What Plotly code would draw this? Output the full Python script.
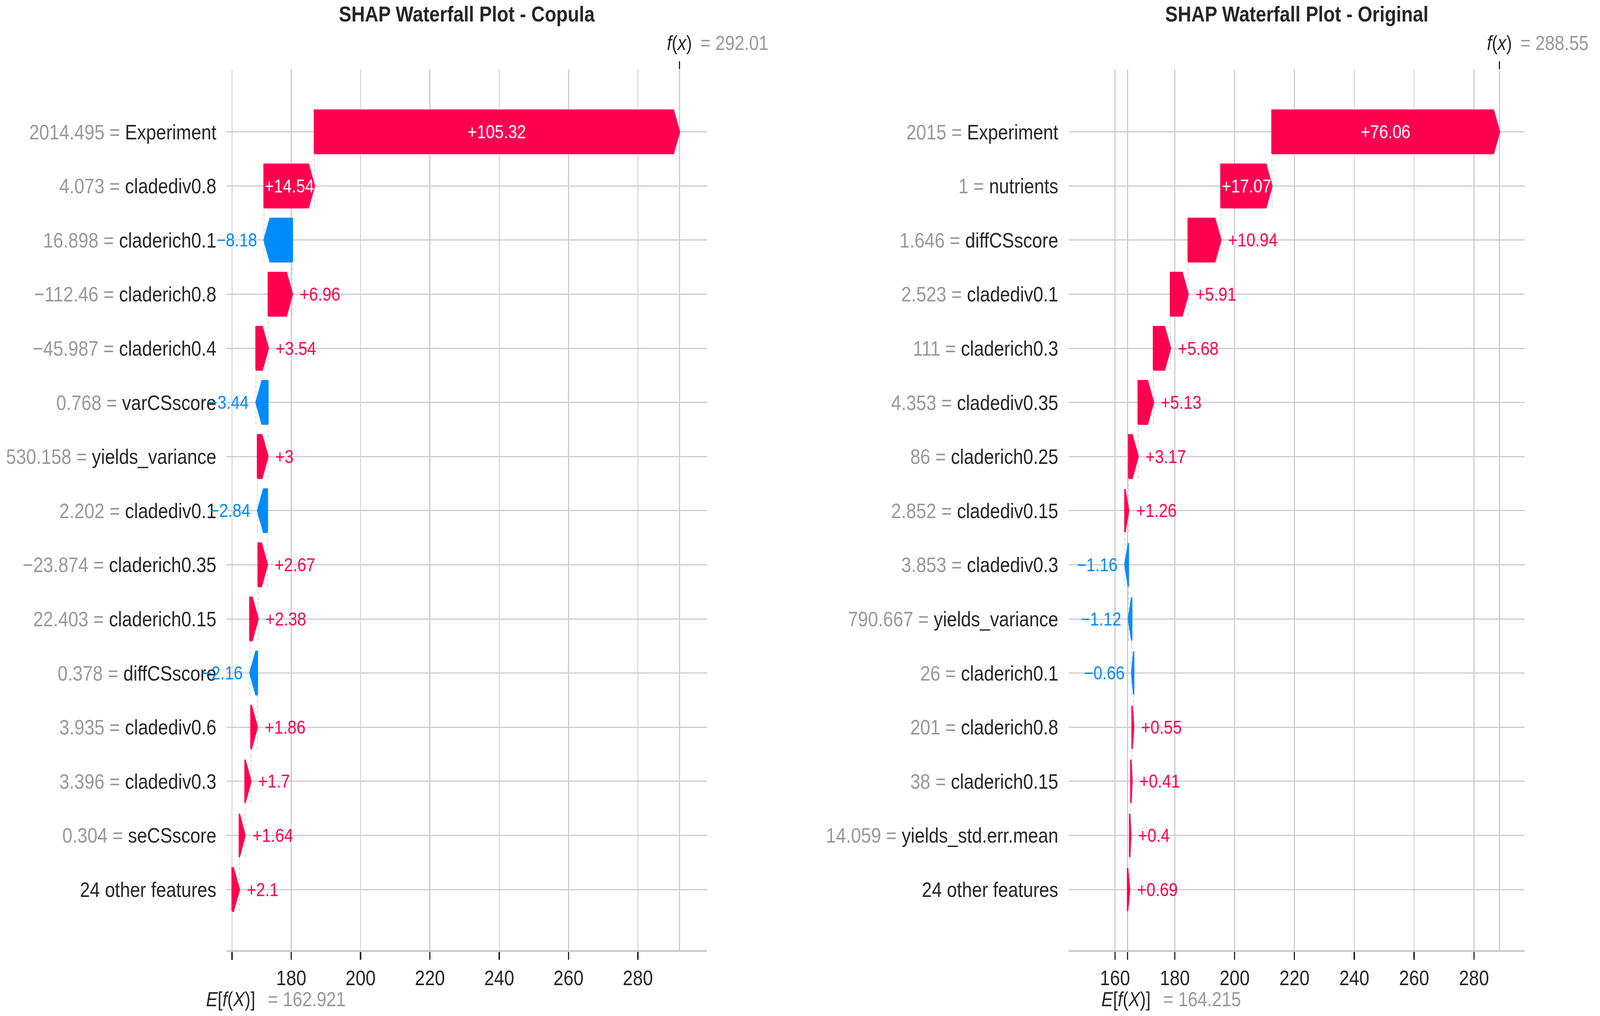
import plotly.graph_objects as go

# ---- data (top row first) ----
copula_features = ["Experiment", "cladediv0.8", "claderich0.1", "claderich0.8", "claderich0.4",
                   "varCSscore", "yields_variance", "cladediv0.1", "claderich0.35", "claderich0.15",
                   "diffCSscore", "cladediv0.6", "cladediv0.3", "seCSscore", "24 other features"]
copula_feature_values = [2014.495, 4.073, 16.898, -112.46, -45.987, 0.768, 530.158, 2.202,
                         -23.874, 22.403, 0.378, 3.935, 3.396, 0.304, None]
copula_shap = [105.32, 14.54, -8.18, 6.96, 3.54, -3.44, 3.0, -2.84, 2.67, 2.38,
               -2.16, 1.86, 1.7, 1.64, 2.1]
copula_base = 162.921
copula_fx = 292.01
copula_ticks = [180, 200, 220, 240, 260, 280]

original_features = ["Experiment", "nutrients", "diffCSscore", "cladediv0.1", "claderich0.3",
                     "cladediv0.35", "claderich0.25", "cladediv0.15", "cladediv0.3", "yields_variance",
                     "claderich0.1", "claderich0.8", "claderich0.15", "yields_std.err.mean",
                     "24 other features"]
original_feature_values = [2015, 1, 1.646, 2.523, 111, 4.353, 86, 2.852, 3.853, 790.667,
                           26, 201, 38, 14.059, None]
original_shap = [76.06, 17.07, 10.94, 5.91, 5.68, 5.13, 3.17, 1.26, -1.16, -1.12,
                 -0.66, 0.55, 0.41, 0.4, 0.69]
original_base = 164.215
original_fx = 288.55
original_ticks = [160, 180, 200, 220, 240, 260, 280]

# ---- style ----
W, H = 4784, 2602
RED = "#ff0051"
BLUE = "#008bfb"
DARK = "#262626"
GRAY = "#999999"
GRID = "#cccccc"
FONT = "Liberation Sans, Arial, sans-serif"
ydom = [0.0648, 0.9315]
yrange = [-1.12, 15.15]
VAL_SIZE = 48


def fmt(v, digits):
    s = ("%0." + str(digits) + "f") % v
    if "." in s:
        s = s.rstrip("0").rstrip(".")
    return s.replace("-", "\u2212")


def text_width(s, size):
    widths = {".": 0.278, "+": 0.584, "\u2212": 0.584}
    return sum(widths.get(c, 0.556) for c in s) * size


fig = go.Figure()
annotations = []

panels = [
    dict(title="SHAP Waterfall Plot - Copula", feats=copula_features, fvals=copula_feature_values,
         shap=copula_shap, base=copula_base, fx=copula_fx, ticks=copula_ticks,
         dom=[0.1417, 0.4419], rng=[161.38, 299.97], xa="x", xt="x3", ya="y"),
    dict(title="SHAP Waterfall Plot - Original", feats=original_features, fvals=original_feature_values,
         shap=original_shap, base=original_base, fx=original_fx, ticks=original_ticks,
         dom=[0.6679, 0.9530], rng=[144.52, 297.0], xa="x2", xt="x4", ya="y2"),
]

for k, p in enumerate(panels):
    n = len(p["feats"])
    ys = [n - 1 - i for i in range(n)]
    ppu = (p["dom"][1] - p["dom"][0]) * W / (p["rng"][1] - p["rng"][0])
    hl = 18 / ppu

    # start of each row: walk up from the base value (bottom row first)
    starts = [0.0] * n
    loc = p["base"]
    for i in range(n - 1, -1, -1):
        starts[i] = loc
        loc += p["shap"][i]

    # dashed connectors
    cx, cy = [], []
    for i in range(n):
        cx += [starts[i], starts[i], None]
        cy += [ys[i] - 1.4, ys[i] + 0.4, None]
    fig.add_trace(go.Scatter(x=cx, y=cy, mode="lines", xaxis=p["xa"], yaxis=p["ya"],
                             line=dict(color="#bbbbbb", width=1.5, dash="8px,5px"),
                             hoverinfo="skip", showlegend=False))

    # arrows
    for i in range(n):
        v = p["shap"][i]
        x0, y = starts[i], ys[i]
        s = 1 if v >= 0 else -1
        d = abs(v)
        h = min(d, hl)
        body = d - h
        col = RED if v >= 0 else BLUE
        fig.add_trace(go.Scatter(
            x=[x0, x0 + s * body, x0 + s * d, x0 + s * body, x0, x0],
            y=[y - 0.4, y - 0.4, y, y + 0.4, y + 0.4, y - 0.4],
            mode="lines", fill="toself", fillcolor=col, line=dict(color=col, width=4),
            xaxis=p["xa"], yaxis=p["ya"], hoverinfo="skip", showlegend=False))

        label = fmt(v, 2)
        if v >= 0:
            label = "+" + label
        if text_width(label, VAL_SIZE) <= d * ppu + 8:
            annotations.append(dict(x=x0 + s * d / 2, y=y, xref=p["xa"], yref=p["ya"], text=label,
                                    showarrow=False, xanchor="center", yanchor="middle",
                                    font=dict(size=VAL_SIZE, color="white", family=FONT)))
        else:
            annotations.append(dict(x=x0 + s * d, y=y, xref=p["xa"], yref=p["ya"], text=label,
                                    showarrow=False, xanchor="left" if v >= 0 else "right",
                                    xshift=20 * s, yanchor="middle",
                                    font=dict(size=VAL_SIZE, color=col, family=FONT)))

    # invisible trace so the top axis gets drawn
    fig.add_trace(go.Scatter(x=[p["fx"]], y=[ys[0]], xaxis=p["xt"], yaxis=p["ya"], mode="markers",
                             marker=dict(opacity=0), hoverinfo="skip", showlegend=False))

    ticktext = []
    for f, fv in zip(p["feats"], p["fvals"]):
        if fv is None:
            ticktext.append(f)
        else:
            ticktext.append("<span style='color:%s'>%s = </span>%s" % (GRAY, fmt(fv, 3), f))

    xkey = "xaxis" if k == 0 else "xaxis2"
    ykey = "yaxis" if k == 0 else "yaxis2"
    tkey = "xaxis3" if k == 0 else "xaxis4"
    tvals = sorted(p["ticks"] + [p["base"]])
    fig.update_layout({
        xkey: dict(domain=p["dom"], range=p["rng"], anchor=p["ya"], tickvals=tvals,
                   ticktext=["" if t == p["base"] else str(t) for t in tvals],
                   ticks="outside", ticklen=20, tickwidth=4, tickcolor=DARK,
                   showline=True, linecolor=GRID, linewidth=5, showgrid=True, gridcolor=GRID,
                   gridwidth=3, zeroline=False, tickfont=dict(size=54, color=DARK, family=FONT)),
        tkey: dict(overlaying=p["xa"], side="top", anchor=p["ya"], range=p["rng"], tickvals=[p["fx"]],
                   ticktext=[""], ticks="outside", ticklen=20, tickwidth=4, tickcolor=DARK,
                   showline=False, showgrid=True, gridcolor=GRID, gridwidth=3, zeroline=False),
        ykey: dict(domain=ydom, range=yrange, anchor=p["xa"], tickvals=ys, ticktext=ticktext,
                   showgrid=True, gridcolor=GRID, gridwidth=3, zeroline=False, showline=False,
                   ticks="", ticklabelstandoff=30, tickfont=dict(size=54, color=DARK, family=FONT)),
    })

    mid = (p["dom"][0] + p["dom"][1]) / 2
    annotations.append(dict(x=mid, y=0.9865, xref="paper", yref="paper", text="<b>%s</b>" % p["title"],
                            showarrow=False, xanchor="center", yanchor="middle",
                            font=dict(size=56, color=DARK, family=FONT)))
    annotations.append(dict(x=p["fx"], y=0.9577, xref=p["xa"], yref="paper", text="<i>f</i>(<i>x</i>)",
                            showarrow=False, xanchor="left", xshift=-40, yanchor="middle",
                            font=dict(size=52, color=DARK, family=FONT)))
    annotations.append(dict(x=p["fx"], y=0.9577, xref=p["xa"], yref="paper", text="= " + fmt(p["fx"], 2),
                            showarrow=False, xanchor="left", xshift=60, yanchor="middle",
                            font=dict(size=52, color=GRAY, family=FONT)))
    annotations.append(dict(x=p["base"], y=0.0165, xref=p["xa"], yref="paper",
                            text="<i>E</i>[<i>f</i>(<i>X</i>)]",
                            showarrow=False, xanchor="left", xshift=-80, yanchor="middle",
                            font=dict(size=52, color=DARK, family=FONT)))
    annotations.append(dict(x=p["base"], y=0.0165, xref=p["xa"], yref="paper", text="= " + fmt(p["base"], 3),
                            showarrow=False, xanchor="left", xshift=105, yanchor="middle",
                            font=dict(size=52, color=GRAY, family=FONT)))

fig.update_layout(width=W, height=H, margin=dict(l=0, r=0, t=0, b=0), paper_bgcolor="white",
                  plot_bgcolor="white", showlegend=False, annotations=annotations,
                  font=dict(family=FONT, color=DARK))

# the browser viewport is not exactly 4784x2602 css px, so stretch the fixed-size figure onto it
fit_js = """
(function () {
  var gd = document.getElementById('{plot_id}');
  var sx = window.innerWidth / %d;
  var sy = window.innerHeight / %d;
  if (!(sx > 0) || !(sy > 0)) { return; }
  document.documentElement.style.overflow = 'hidden';
  document.body.style.margin = '0';
  document.body.style.overflow = 'hidden';
  gd.parentElement.style.width = '100vw';
  gd.parentElement.style.height = '100vh';
  gd.parentElement.style.overflow = 'hidden';
  gd.style.transformOrigin = '0 0';
  gd.style.transform = 'scale(' + sx + ',' + sy + ')';
})();
""" % (W, H)

fig.write_html("out.html", post_script=fit_js, config={"displayModeBar": False})
